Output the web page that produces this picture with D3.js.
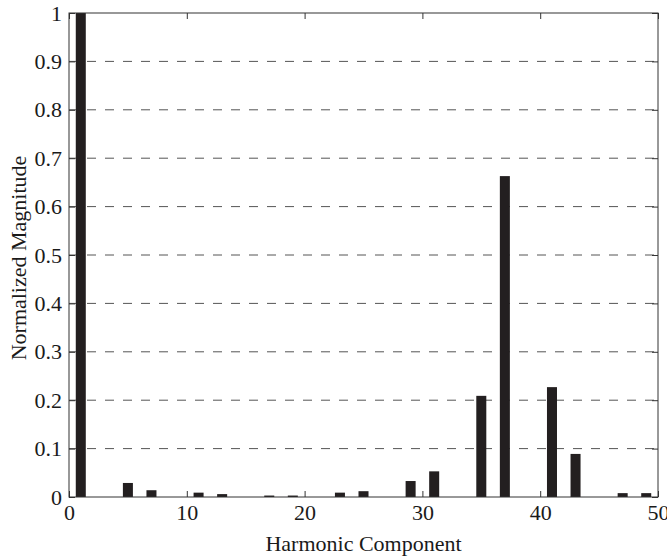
<!DOCTYPE html>
<html>
<head>
<meta charset="utf-8">
<script src="https://cdn.jsdelivr.net/npm/d3@7"></script>
<style>
  body { margin: 0; background: #fff; }
  text { font-family: "Liberation Serif", serif; fill: #1a1a1a; }
</style>
</head>
<body>
<svg id="chart"></svg>
<script>
// data
var harmonics = [1, 5, 7, 11, 13, 17, 19, 23, 25, 29, 31, 35, 37, 41, 43, 47, 49];
var magnitudes = [1, 0.029, 0.014, 0.009, 0.006, 0.003, 0.003, 0.009, 0.012, 0.033, 0.053, 0.209, 0.663, 0.227, 0.089, 0.008, 0.008];
var xTicks = [0, 10, 20, 30, 40, 50];
var yTicks = [0, 0.1, 0.2, 0.3, 0.4, 0.5, 0.6, 0.7, 0.8, 0.9, 1];

var width = 667, height = 556;
var margin = {top: 13, right: 9, bottom: 59, left: 69};
var w = width - margin.left - margin.right;
var h = height - margin.top - margin.bottom;

var svg = d3.select("#chart").attr("width", width).attr("height", height);
var g = svg.append("g").attr("transform", "translate(" + margin.left + "," + margin.top + ")");

var x = d3.scaleLinear().domain([0, 50]).range([0, w]);
var y = d3.scaleLinear().domain([0, 1]).range([h, 0]);

// dashed grid
g.selectAll(".grid")
  .data(yTicks.filter(function(d){ return d > 0 && d < 1; }))
  .enter().append("line")
  .attr("x1", 0).attr("x2", w)
  .attr("y1", function(d){ return y(d); })
  .attr("y2", function(d){ return y(d); })
  .attr("stroke", "#555")
  .attr("stroke-width", 1)
  .attr("stroke-dasharray", "9,9");

// bars
var bw = x(0.85) - x(0);
g.selectAll(".bar")
  .data(harmonics)
  .enter().append("rect")
  .attr("x", function(d){ return x(d) - bw / 2; })
  .attr("y", function(d, i){ return y(magnitudes[i]); })
  .attr("width", bw)
  .attr("height", function(d, i){ return h - y(magnitudes[i]); })
  .attr("fill", "#231f20");

// axes
var yAxis = d3.axisLeft(y).tickValues(yTicks).tickSize(-6).tickPadding(7)
  .tickFormat(function(d){ return d === 0 || d === 1 ? d3.format("d")(d) : d3.format(".1f")(d); });
var xAxis = d3.axisBottom(x).tickValues(xTicks).tickSize(-6).tickPadding(7).tickFormat(d3.format("d"));

var ya = g.append("g").call(yAxis);
var xa = g.append("g").attr("transform", "translate(0," + h + ")").call(xAxis);
[ya, xa].forEach(function(a){
  a.attr("font-size", null).attr("font-family", null);
  a.select(".domain").remove();
  a.selectAll("line").attr("stroke", "#333");
  a.selectAll("text").style("font-size", "22px").attr("fill", "#1a1a1a");
});

// right side ticks
g.append("g").attr("transform", "translate(" + w + ",0)")
  .call(d3.axisRight(y).tickValues(yTicks).tickSize(-6).tickFormat(""))
  .call(function(a){ a.select(".domain").remove(); a.selectAll("line").attr("stroke", "#333"); });
g.append("g")
  .call(d3.axisTop(x).tickValues(xTicks).tickSize(-6).tickFormat(""))
  .call(function(a){ a.select(".domain").remove(); a.selectAll("line").attr("stroke", "#333"); });

// frame
g.append("rect").attr("width", w).attr("height", h)
  .attr("fill", "none").attr("stroke", "#333").attr("stroke-width", 1);

// titles
svg.append("text")
  .attr("x", margin.left + w / 2).attr("y", 551)
  .attr("text-anchor", "middle").style("font-size", "22px")
  .text("Harmonic Component");
svg.append("text")
  .attr("transform", "translate(26," + (margin.top + h / 2 + 3) + ") rotate(-90)")
  .attr("text-anchor", "middle").style("font-size", "22px")
  .text("Normalized Magnitude");
</script>
</body>
</html>
